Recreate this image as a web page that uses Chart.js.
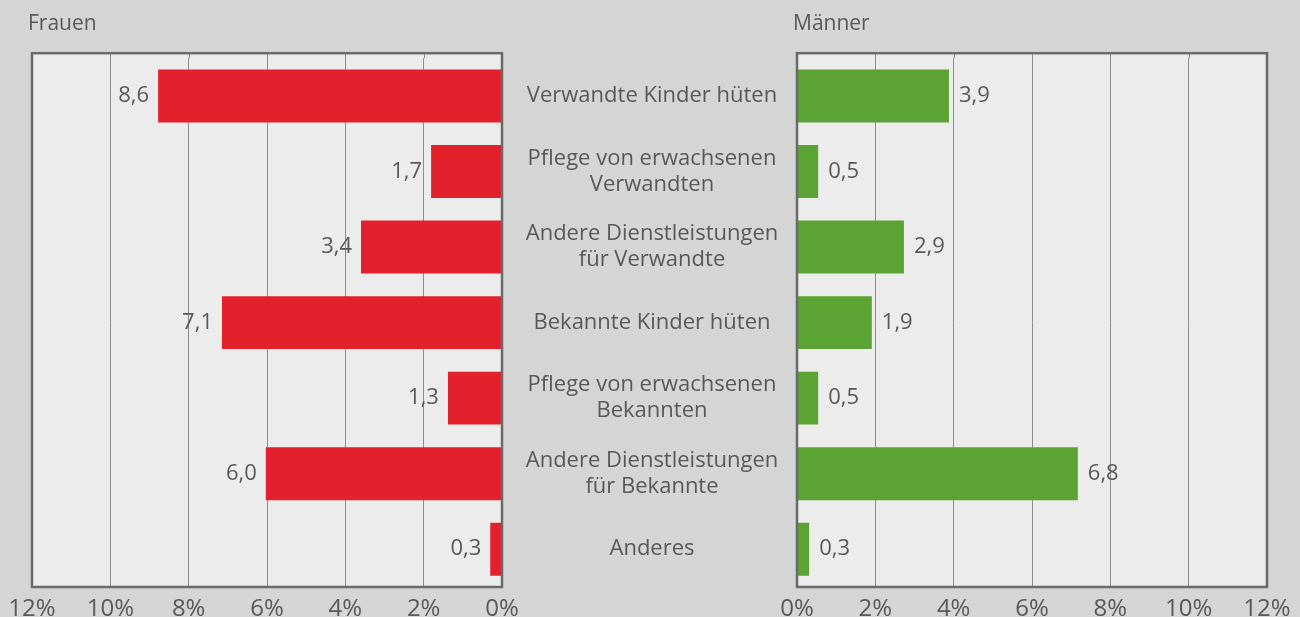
<!DOCTYPE html>
<html lang="de">
<head>
<meta charset="UTF-8">
<title>Frauen und Männer</title>
<style>
  body { margin: 0; background: #d5d5d5; }
  .wrap { position: relative; width: 1300px; height: 617px; overflow: hidden; }
  #links { position: absolute; left: 0; top: 0; }
  #rechts { position: absolute; left: 760px; top: 0; }
</style>
</head>
<body>
<div class="wrap">
  <canvas id="links" width="797" height="617"></canvas>
  <canvas id="rechts" width="540" height="617"></canvas>
</div>

<script src="https://cdn.jsdelivr.net/npm/chart.js"></script>
<script>
const kategorien = [
  'Verwandte Kinder hüten',
  ['Pflege von erwachsenen', 'Verwandten'],
  ['Andere Dienstleistungen', 'für Verwandte'],
  'Bekannte Kinder hüten',
  ['Pflege von erwachsenen', 'Bekannten'],
  ['Andere Dienstleistungen', 'für Bekannte'],
  'Anderes'
];
// Balkenlängen wie im Bild gemessen (%), Beschriftungen wie gedruckt
const frauenWerte = [8.78, 1.81, 3.6, 7.15, 1.38, 6.03, 0.3];
const frauenText = ['8,6', '1,7', '3,4', '7,1', '1,3', '6,0', '0,3'];
const maennerWerte = [3.88, 0.54, 2.73, 1.91, 0.54, 7.17, 0.31];
const maennerText = ['3,9', '0,5', '2,9', '1,9', '0,5', '6,8', '0,3'];
const achsenMax = 12;
const achsenSchritt = 2;

const FONT = '"Open Sans", sans-serif';
const TEXT = '#585858';
const OBEN = 5; // Rahmen ragt etwas über die erste Kategorie hinaus

// Hintergrund und Rahmen der Zeichenfläche
const rahmen = {
  id: 'rahmen',
  beforeDraw(chart) {
    const { ctx, chartArea: a } = chart;
    ctx.save();
    ctx.fillStyle = '#ececec';
    ctx.fillRect(a.left, a.top - OBEN, a.width, a.height + OBEN);
    // Gitterlinien oben bis an den Rahmen verlängern
    const x = chart.scales.x;
    ctx.strokeStyle = '#8c8c8c';
    ctx.lineWidth = 1;
    x.ticks.forEach(t => {
      const px = Math.round(x.getPixelForValue(t.value)) + 0.5;
      ctx.beginPath();
      ctx.moveTo(px, a.top - OBEN);
      ctx.lineTo(px, a.top);
      ctx.stroke();
    });
    ctx.restore();
  },
  afterDatasetsDraw(chart) {
    const { ctx, chartArea: a } = chart;
    ctx.save();
    ctx.strokeStyle = '#6a6a6a';
    ctx.lineWidth = 2.5;
    ctx.strokeRect(a.left, a.top - OBEN, a.width, a.height + OBEN);
    ctx.restore();
  }
};

// Zahlen neben den Balken
function werteLabels(texte, links) {
  return {
    id: 'werte',
    afterDatasetsDraw(chart) {
      const ctx = chart.ctx;
      const bars = chart.getDatasetMeta(0).data;
      ctx.save();
      ctx.font = '22px ' + FONT;
      ctx.fillStyle = TEXT;
      ctx.textBaseline = 'middle';
      bars.forEach((bar, i) => {
        if (links) {
          ctx.textAlign = 'right';
          ctx.fillText(texte[i], bar.x - 9, bar.y);
        } else {
          ctx.textAlign = 'left';
          ctx.fillText(texte[i], bar.x + 10, bar.y);
        }
      });
      ctx.restore();
    }
  };
}

// Kategorien in der Mitte
const kategorieLabels = {
  id: 'kategorien',
  afterDraw(chart) {
    const ctx = chart.ctx;
    const y = chart.scales.y;
    const mitte = chart.chartArea.right + 150;
    ctx.save();
    ctx.font = '22px ' + FONT;
    ctx.fillStyle = TEXT;
    ctx.textAlign = 'center';
    ctx.textBaseline = 'middle';
    kategorien.forEach((k, i) => {
      const zeilen = Array.isArray(k) ? k : [k];
      const py = y.getPixelForTick(i);
      zeilen.forEach((z, j) => {
        ctx.fillText(z, mitte, py + (j - (zeilen.length - 1) / 2) * 26);
      });
    });
    ctx.restore();
  }
};

function optionen(titel, umgekehrt, padding) {
  return {
    indexAxis: 'y',
    responsive: false,
    animation: false,
    layout: { padding: padding },
    plugins: {
      legend: { display: false },
      tooltip: { enabled: false },
      title: {
        display: true,
        text: titel,
        align: 'start',
        color: TEXT,
        font: { family: FONT, size: 21, weight: 'normal', lineHeight: 1.2 },
        padding: { top: 11, bottom: 22 }
      }
    },
    scales: {
      x: {
        min: 0,
        max: achsenMax,
        reverse: umgekehrt,
        grid: { color: '#8c8c8c', lineWidth: 1, drawTicks: false },
        border: { display: false },
        ticks: {
          stepSize: achsenSchritt,
          color: TEXT,
          padding: 10,
          maxRotation: 0,
          font: { family: FONT, size: 24, lineHeight: 1 },
          callback: v => v + '%'
        },
        afterFit: s => { s.paddingLeft = 0; s.paddingRight = 0; }
      },
      y: {
        display: true,
        position: 'left',
        grid: { display: false, drawTicks: false },
        border: { display: false },
        ticks: { display: false },
        afterFit: s => { s.width = 4; }
      }
    }
  };
}

new Chart(document.getElementById('links'), {
  type: 'bar',
  data: {
    labels: kategorien,
    datasets: [{
      data: frauenWerte,
      backgroundColor: '#e2212d',
      categoryPercentage: 1,
      barPercentage: 0.7
    }]
  },
  options: optionen('Frauen', true, { left: 28, right: 295, top: 0, bottom: -14 }),
  plugins: [rahmen, werteLabels(frauenText, true), kategorieLabels]
});

new Chart(document.getElementById('rechts'), {
  type: 'bar',
  data: {
    labels: kategorien,
    datasets: [{
      data: maennerWerte,
      backgroundColor: '#5ba333',
      categoryPercentage: 1,
      barPercentage: 0.7
    }]
  },
  options: optionen('Männer', false, { left: 33, right: 33, top: 0, bottom: -14 }),
  plugins: [rahmen, werteLabels(maennerText, false)]
});
</script>
</body>
</html>
